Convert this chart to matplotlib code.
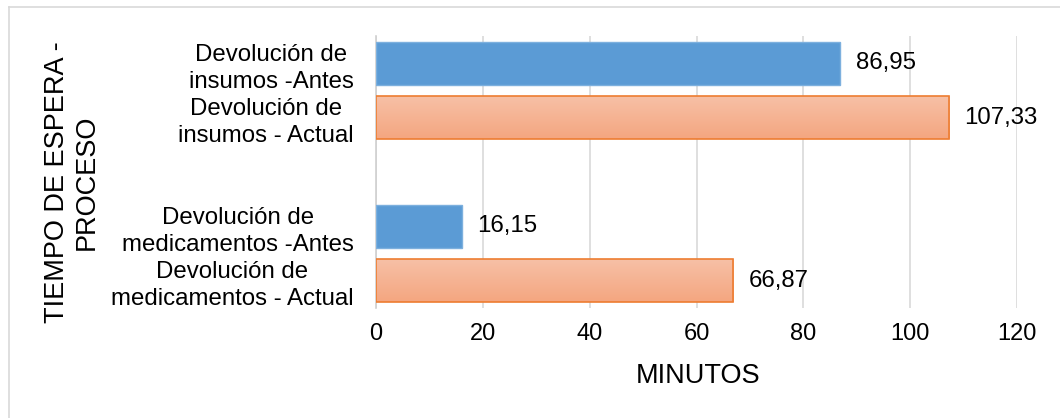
import matplotlib
matplotlib.use('Agg')
import matplotlib.pyplot as plt
import numpy as np
from matplotlib.colors import LinearSegmentedColormap
from matplotlib.lines import Line2D

plt.rcParams['font.family'] = ['Liberation Sans', 'DejaVu Sans']

# Datos (la categoría vacía del medio separa los dos grupos)
etiquetas = ['Devolución de\ninsumos -Antes',
             'Devolución de\ninsumos - Actual',
             '',
             'Devolución de\nmedicamentos -Antes',
             'Devolución de\nmedicamentos - Actual']
valores = [86.95, 107.33, None, 16.15, 66.87]
series = ['antes', 'actual', None, 'antes', 'actual']
textos = ['86,95', '107,33', '', '16,15', '66,87']

AZUL = '#5B9BD5'
NARANJA_BORDE = '#ED7D31'
degradado = LinearSegmentedColormap.from_list('nar', ['#F7C0A6', '#F4A680'])

fig = plt.figure(figsize=(10.6, 4.18), dpi=100)
ax = fig.add_axes([376 / 1060, 1 - 308 / 418, 641 / 1060, 272 / 418])

pos = np.arange(len(etiquetas))
alto = 0.79

for y, v, s, t in zip(pos, valores, series, textos):
    if v is None:
        continue
    if s == 'antes':
        ax.barh(y, v, height=alto, color=AZUL, edgecolor='#7DB0DE', linewidth=1, zorder=3)
    else:
        barra = ax.barh(y, v, height=alto, color='none', edgecolor=NARANJA_BORDE,
                        linewidth=1.2, zorder=4)[0]
        grad = np.linspace(0, 1, 100).reshape(-1, 1)
        im = ax.imshow(grad, cmap=degradado, aspect='auto', zorder=3,
                       extent=[0, v, y + alto / 2, y - alto / 2], origin='upper')
        im.set_clip_path(barra)
    ax.annotate(t, (v, y), xytext=(11, 0), textcoords='offset points',
                ha='left', va='center', fontsize=17.3, color='black')

ax.set_xlim(0, 120)
ax.set_ylim(len(etiquetas) - 0.5, -0.5)
ax.set_xticks(range(0, 121, 20))
ax.set_yticks(pos)
ax.set_yticklabels(etiquetas, fontsize=17.3, multialignment='center', linespacing=1.3)
ax.tick_params(axis='y', length=0, pad=16)
ax.tick_params(axis='x', length=0, pad=11, labelsize=17)

ax.grid(axis='x', color='#D9D9D9', linewidth=1.2, zorder=0)
ax.set_axisbelow(True)
for lado in ['top', 'right', 'bottom']:
    ax.spines[lado].set_visible(False)
ax.spines['left'].set_color('#D0D0D0')
ax.spines['left'].set_linewidth(1.2)

fig.text(698 / 1060, 1 - 376 / 418, 'MINUTOS', fontsize=19.5, ha='center', va='center')
fig.text(72 / 1060, 1 - 182 / 418, 'TIEMPO DE ESPERA -\nPROCESO', fontsize=19.5,
         rotation=90, ha='center', va='center', multialignment='center', linespacing=1.2)

# Borde del área del gráfico
fig.add_artist(Line2D([8.5 / 1060, 1], [1 - 6.5 / 418, 1 - 6.5 / 418],
                      transform=fig.transFigure, color='#D9D9D9', linewidth=1.2))
fig.add_artist(Line2D([8.5 / 1060, 8.5 / 1060], [0, 1 - 6.5 / 418],
                      transform=fig.transFigure, color='#D9D9D9', linewidth=1.2))

fig.savefig('out.png', dpi=100)
